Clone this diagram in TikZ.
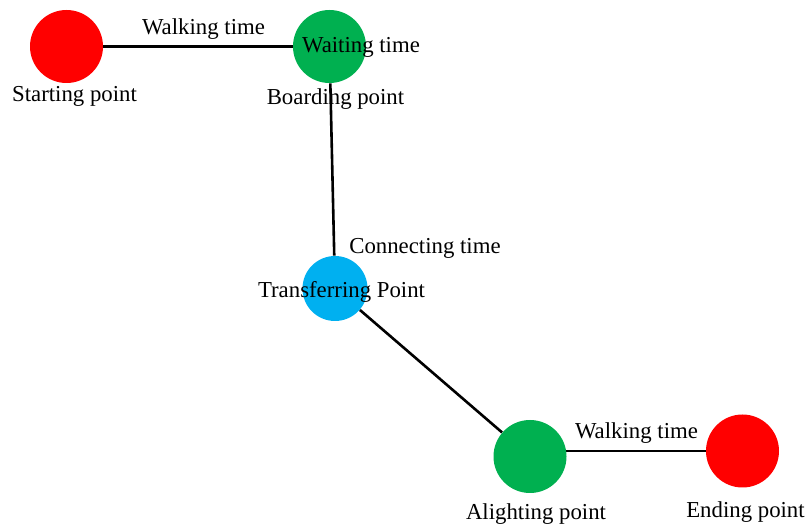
\documentclass[tikz,border=0pt]{standalone}
\usepackage{fontspec}
\setmainfont{Liberation Serif}
\usetikzlibrary{backgrounds}
\definecolor{cred}{HTML}{FF0000}
\definecolor{cgreen}{HTML}{00B050}
\definecolor{cblue}{HTML}{00B0F0}
\tikzset{
  stop/.style={circle, inner sep=0pt, minimum size=36.5pt, fill=#1, draw=none},
  lbl/.style={anchor=base, inner sep=0pt, font=\fontsize{11.4}{13}\selectfont},
  link/.style={line width=1.3pt, black}
}
\begin{document}
\begin{tikzpicture}[x=0.5pt,y=-0.5pt]
\useasboundingbox (0,0) rectangle (811,524);
\node[stop=cred] (s) at (66.5,46.5) {};
\node[stop=cgreen] (b) at (329.5,46.5) {};
\node[stop=cblue, minimum size=32.5pt] (t) at (335,288.5) {};
\node[stop=cgreen] (a) at (530,456.5) {};
\node[stop=cred] (e) at (742.5,451) {};
\draw[link] (s) -- (b);
\draw[link] (b) -- (t);
\draw[link] (t) -- (a);
\begin{pgfonlayer}{background}
\draw[link] (e) -- (a |- e);
\end{pgfonlayer}
\node[lbl] (w1) at (203.5,35) {Walking time};
\node[lbl] (wt) at (361,53) {Waiting time};
\node[lbl] (sp) at (74.5,102) {Starting point};
\node[lbl] (bp) at (335.5,105) {Boarding point};
\node[lbl] (ct) at (425,254) {Connecting time};
\node[lbl] (tp) at (341.5,298) {Transferring Point};
\node[lbl] (w2) at (636.5,439) {Walking time};
\node[lbl] (ap) at (536,520) {Alighting point};
\node[lbl] (ep) at (745.5,518) {Ending point};
\end{tikzpicture}
\end{document}
